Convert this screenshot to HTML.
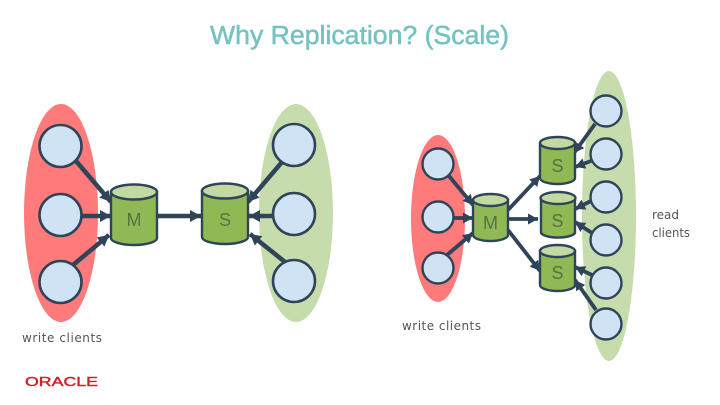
<!DOCTYPE html>
<html><head><meta charset="utf-8"><style>html,body{margin:0;padding:0;background:#fff;width:720px;height:405px;overflow:hidden}svg{display:block}</style></head><body>
<svg width="720" height="405" viewBox="0 0 720 405" xmlns="http://www.w3.org/2000/svg">
<defs>
<g id="cL"><circle r="21" fill="#cfe3f4" stroke="#2f4458" stroke-width="2.6"/></g>
<g id="cS"><circle r="15.5" fill="#cfe3f4" stroke="#2f4458" stroke-width="2.4"/></g>
<marker id="a" markerUnits="userSpaceOnUse" markerWidth="13" markerHeight="13" refX="11" refY="6.5" orient="auto"><path d="M0,0.5L11,6.5L0,12.5Z" fill="#2f4458"/></marker>
<marker id="b" markerUnits="userSpaceOnUse" markerWidth="12" markerHeight="12" refX="10" refY="6" orient="auto"><path d="M0,0.5L10,6L0,11.5Z" fill="#2f4458"/></marker>
</defs>
<text x="210" y="44" font-family="Liberation Sans, sans-serif" font-weight="400" font-size="25.5" fill="#74c2c2" stroke="#74c2c2" stroke-width="0.5" textLength="299" lengthAdjust="spacingAndGlyphs">Why Replication? (Scale)</text>

<ellipse cx="61" cy="213" rx="37" ry="109" fill="#ff7a7a"/>
<ellipse cx="296" cy="213" rx="37" ry="109" fill="#c6dcac"/>
<ellipse cx="438" cy="218.5" rx="27" ry="83.5" fill="#ff7a7a"/>
<ellipse cx="609" cy="216" rx="27" ry="145" fill="#c6dcac"/>

<g stroke="#2f4458" stroke-width="4.5" fill="none">
<line x1="76" y1="161" x2="111" y2="202" marker-end="url(#a)"/>
<line x1="82" y1="216" x2="111" y2="216" marker-end="url(#a)"/>
<line x1="73" y1="265" x2="109" y2="235" marker-end="url(#a)"/>
<line x1="158" y1="216" x2="201" y2="216" marker-end="url(#a)"/>
<line x1="282" y1="162" x2="248" y2="202" marker-end="url(#a)"/>
<line x1="272" y1="216" x2="249" y2="216" marker-end="url(#a)"/>
<line x1="285" y1="262" x2="250" y2="234" marker-end="url(#a)"/>
</g>
<g stroke="#2f4458" stroke-width="3.8" fill="none">
<line x1="449" y1="176" x2="473" y2="205" marker-end="url(#b)"/>
<line x1="454" y1="218" x2="473" y2="218" marker-end="url(#b)"/>
<line x1="447" y1="255" x2="473" y2="233" marker-end="url(#b)"/>
<line x1="508" y1="210" x2="540" y2="176" marker-end="url(#b)"/>
<line x1="508" y1="219" x2="538" y2="219" marker-end="url(#b)"/>
<line x1="508" y1="230" x2="540" y2="271" marker-end="url(#b)"/>
<line x1="595" y1="124" x2="574" y2="153" marker-end="url(#b)"/>
<line x1="591" y1="161" x2="575" y2="167" marker-end="url(#b)"/>
<line x1="591" y1="201" x2="575" y2="209" marker-end="url(#b)"/>
<line x1="592" y1="233" x2="575" y2="222" marker-end="url(#b)"/>
<line x1="592" y1="275" x2="575" y2="267" marker-end="url(#b)"/>
<line x1="596" y1="310" x2="575" y2="280" marker-end="url(#b)"/>
</g>

<use href="#cL" x="60.5" y="146"/><use href="#cL" x="60.5" y="215"/><use href="#cL" x="60.5" y="282"/>
<use href="#cL" x="294" y="145"/><use href="#cL" x="294" y="214"/><use href="#cL" x="294" y="281"/>
<use href="#cS" x="438" y="164"/><use href="#cS" x="438" y="217"/><use href="#cS" x="438" y="268"/>
<use href="#cS" x="606" y="111"/><use href="#cS" x="606" y="154"/><use href="#cS" x="606" y="197"/>
<use href="#cS" x="606" y="240"/><use href="#cS" x="606" y="283"/><use href="#cS" x="606" y="324"/>

<g stroke="#2f4458" stroke-width="2.4">
<path d="M111,192V238A23,7 0 0 0 157,238V192Z" fill="#8fb955"/><ellipse cx="134" cy="192" rx="23" ry="7.5" fill="#c3d9a2"/>
<path d="M202,191V237A23,7 0 0 0 248,237V191Z" fill="#8fb955"/><ellipse cx="225" cy="191" rx="23" ry="7.5" fill="#c3d9a2"/>
<path d="M473,200V235A17.5,6 0 0 0 508,235V200Z" fill="#8fb955"/><ellipse cx="490.5" cy="200" rx="17.5" ry="6" fill="#c3d9a2"/>
<path d="M540,143V178A17.5,6 0 0 0 575,178V143Z" fill="#8fb955"/><ellipse cx="557.5" cy="143" rx="17.5" ry="6" fill="#c3d9a2"/>
<path d="M541,198V233A17.5,6 0 0 0 575,233V198Z" fill="#8fb955"/><ellipse cx="558" cy="198" rx="17.5" ry="6" fill="#c3d9a2"/>
<path d="M540,251V285A17.5,6 0 0 0 575,285V251Z" fill="#8fb955"/><ellipse cx="557.5" cy="251" rx="17.5" ry="6" fill="#c3d9a2"/>
</g>

<g font-family="Liberation Sans, sans-serif" font-size="18" fill="#55743c" text-anchor="middle">
<text x="134" y="226">M</text><text x="225" y="226">S</text><text x="490.5" y="229">M</text>
<text x="557.5" y="172">S</text><text x="557.5" y="227">S</text><text x="557.5" y="279">S</text>
</g>
<g font-family="DejaVu Sans, sans-serif" font-size="12" fill="#555">
<text x="22" y="342" textLength="80" lengthAdjust="spacing">write clients</text>
<text x="402" y="330" textLength="79" lengthAdjust="spacing">write clients</text>
<text x="652" y="219" textLength="27" lengthAdjust="spacingAndGlyphs">read</text>
<text x="652" y="237" textLength="38" lengthAdjust="spacingAndGlyphs">clients</text>
</g>
<text x="25" y="386" font-family="Liberation Sans, sans-serif" font-size="12.5" font-weight="400" fill="#d0202c" stroke="#d0202c" stroke-width="0.4" textLength="73" lengthAdjust="spacingAndGlyphs">ORACLE</text>
</svg>
</body></html>
